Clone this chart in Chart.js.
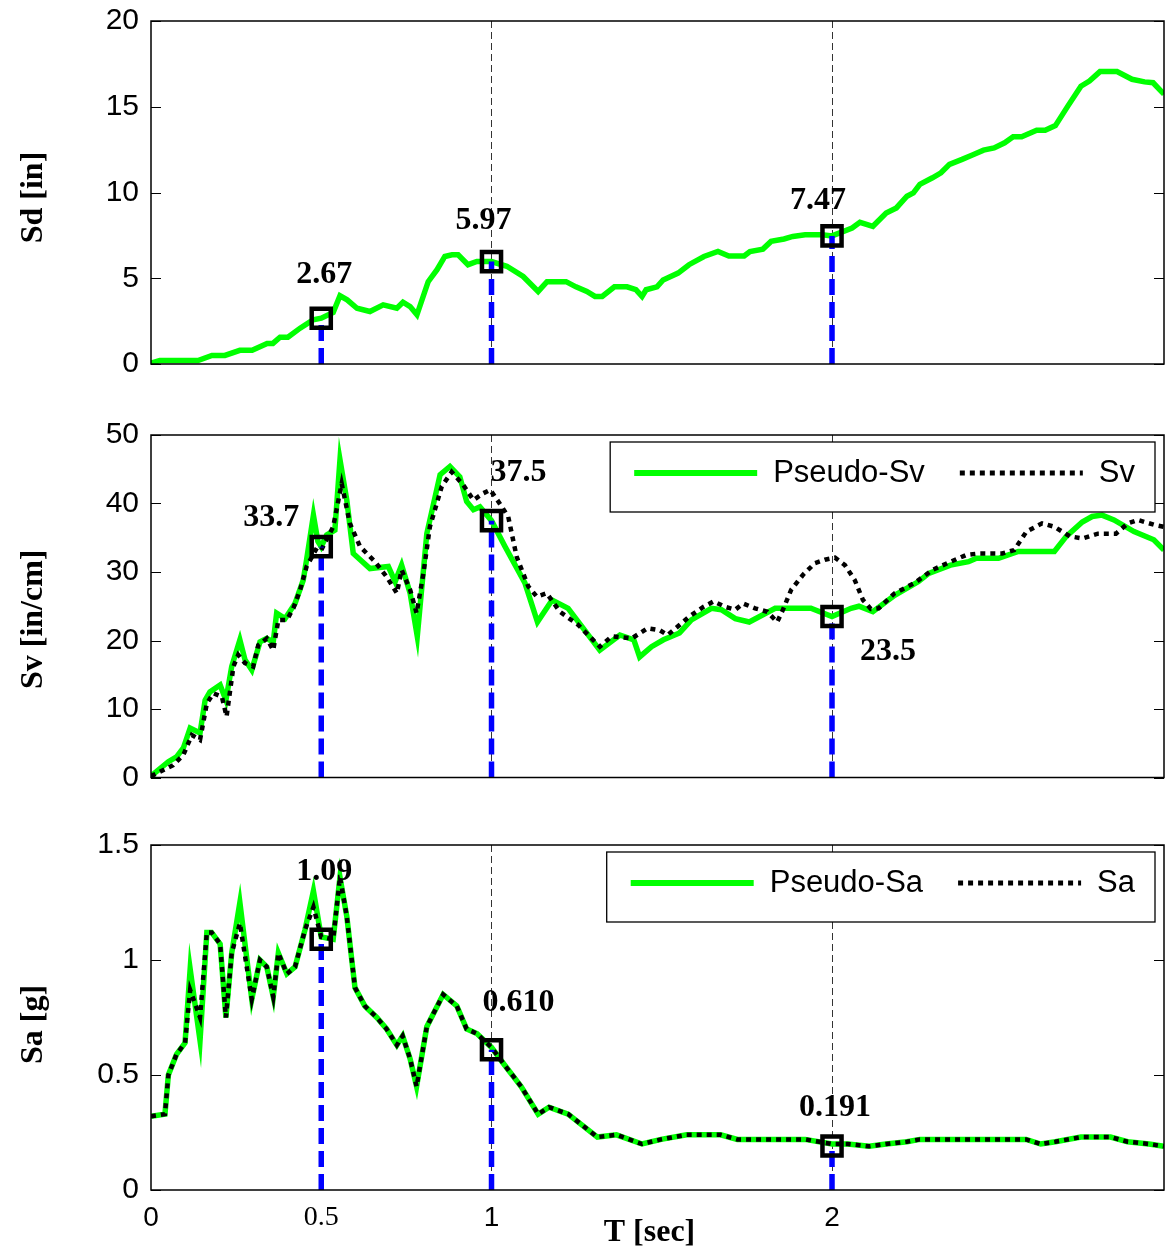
<!DOCTYPE html>
<html>
<head>
<meta charset="utf-8">
<title>Response spectra</title>
<script src="https://cdn.jsdelivr.net/npm/chart.js@4.4.1/dist/chart.umd.min.js"></script>
<style>
  html, body { margin: 0; padding: 0; background: #fff; }
  #wrap { position: relative; width: 1165px; height: 1252px; overflow: hidden; }
  #wrap canvas { position: absolute; left: 0; }
</style>
</head>
<body>
<div id="wrap">
  <canvas id="sdChart" width="1165" height="400" style="top:0px"></canvas>
  <canvas id="svChart" width="1165" height="400" style="top:400px"></canvas>
  <canvas id="saChart" width="1165" height="442" style="top:810px"></canvas>
</div>
<script>
// ---------- data ----------
// periods that are marked on every spectrum
const markPeriods = [0.5, 1, 2];
const sdMarks = [2.67, 5.97, 7.47];
const svMarks = [33.7, 37.5, 23.5];
const saMarks = [1.09, 0.610, 0.191];

// axis ticks
const periodTicks = [0, 0.5, 1, 2];
const periodGrid = [1, 2];
const sdTicks = [0, 5, 10, 15, 20];
const svTicks = [0, 10, 20, 30, 40, 50];
const saTicks = [0, 0.5, 1, 1.5];

// spectral displacement
const sdT = [0, 0.026, 0.138, 0.179, 0.217, 0.261, 0.297, 0.341, 0.358, 0.379, 0.402, 0.438, 0.476, 0.5, 0.535,
  0.555, 0.576, 0.605, 0.643, 0.682, 0.722, 0.74, 0.761, 0.781, 0.814, 0.84, 0.863, 0.884, 0.902, 0.931,
  0.957, 1.0, 1.045, 1.093, 1.137, 1.163, 1.219, 1.248, 1.28, 1.304, 1.325, 1.361, 1.398, 1.424, 1.442,
  1.454, 1.486, 1.504, 1.548, 1.58, 1.624, 1.665, 1.697, 1.742, 1.759, 1.797, 1.821, 1.859, 1.885, 1.921,
  1.971, 2.0, 2.059, 2.082, 2.12, 2.159, 2.189, 2.22, 2.239, 2.258, 2.295, 2.32, 2.345, 2.382, 2.414,
  2.445, 2.476, 2.507, 2.532, 2.557, 2.601, 2.626, 2.656, 2.693, 2.731, 2.756, 2.787, 2.837, 2.881, 2.918,
  2.943, 2.975];
const sdValues = [0.05, 0.2, 0.2, 0.5, 0.5, 0.8, 0.8, 1.2, 1.2, 1.56, 1.56, 2.09, 2.57, 2.67, 3.0,
  3.98, 3.74, 3.25, 3.06, 3.45, 3.25, 3.6, 3.35, 2.87, 4.8, 5.5, 6.27, 6.37, 6.37, 5.79,
  5.98, 5.97, 5.7, 5.1, 4.23, 4.8, 4.8, 4.5, 4.23, 3.94, 3.94, 4.5, 4.5, 4.33, 3.94,
  4.33, 4.5, 4.9, 5.3, 5.79, 6.27, 6.56, 6.3, 6.3, 6.56, 6.7, 7.15, 7.29, 7.44, 7.54,
  7.54, 7.47, 7.93, 8.26, 8.03, 8.8, 9.1, 9.78, 9.98, 10.47, 10.86, 11.15, 11.64, 11.93, 12.2,
  12.47, 12.6, 12.9, 13.25, 13.25, 13.63, 13.63, 13.9, 15.05, 16.2, 16.5, 17.05, 17.05, 16.6, 16.45,
  16.4, 15.73];

// pseudo spectral velocity
const psvT = [0, 0.051, 0.075, 0.095, 0.115, 0.144, 0.159, 0.173, 0.203, 0.22, 0.237, 0.261, 0.276, 0.296, 0.32,
  0.34, 0.359, 0.369, 0.394, 0.423, 0.447, 0.457, 0.477, 0.49, 0.5, 0.516, 0.54, 0.555, 0.575, 0.594,
  0.643, 0.697, 0.717, 0.736, 0.761, 0.782, 0.81, 0.849, 0.878, 0.907, 0.927, 0.947, 0.966, 1.0, 1.04,
  1.098, 1.135, 1.178, 1.225, 1.318, 1.377, 1.418, 1.435, 1.47, 1.505, 1.552, 1.587, 1.646, 1.675, 1.716,
  1.757, 1.833, 1.938, 2.0, 2.056, 2.079, 2.12, 2.184, 2.254, 2.284, 2.348, 2.401, 2.424, 2.489, 2.547,
  2.653, 2.688, 2.735, 2.764, 2.793, 2.828, 2.887, 2.945, 2.975];
const psvValues = [0.2, 2.3, 3.0, 4.3, 7.2, 6.5, 11.3, 12.5, 13.5, 11.3, 16.2, 20.1, 17.2, 15.7, 19.8,
  20.3, 19.8, 24.0, 23.2, 25.4, 28.8, 31.8, 38.3, 34.5, 33.7, 35.4, 36.1, 46.4, 40.5, 32.7,
  30.5, 30.8, 28.6, 31.0, 26.9, 20.6, 35.6, 44.2, 45.4, 43.9, 40.3, 39.1, 39.5, 37.5, 33.7,
  28.4, 22.7, 25.9, 24.7, 18.6, 20.8, 20.1, 17.6, 19.1, 20.1, 21.1, 23.0, 24.7, 24.5, 23.2,
  22.7, 24.7, 24.7, 23.5, 24.7, 25.0, 24.2, 26.6, 28.6, 29.8, 31.0, 31.5, 32.0, 32.0, 33.0,
  33.0, 35.2, 37.3, 38.1, 38.3, 37.6, 35.9, 34.7, 33.2];

// spectral velocity
const svT = [0, 0.065, 0.095, 0.12, 0.144, 0.164, 0.183, 0.208, 0.222, 0.242, 0.256, 0.276, 0.3, 0.315, 0.34,
  0.359, 0.374, 0.399, 0.418, 0.438, 0.457, 0.487, 0.5, 0.535, 0.56, 0.584, 0.614, 0.658, 0.692, 0.722,
  0.736, 0.761, 0.78, 0.8, 0.819, 0.854, 0.883, 0.917, 0.947, 0.976, 0.996, 1.02, 1.049, 1.074, 1.108,
  1.133, 1.162, 1.201, 1.254, 1.318, 1.353, 1.412, 1.458, 1.494, 1.517, 1.546, 1.581, 1.622, 1.652, 1.687,
  1.716, 1.739, 1.774, 1.81, 1.839, 1.856, 1.88, 1.915, 1.95, 1.979, 2.009, 2.038, 2.067, 2.091, 2.114,
  2.137, 2.184, 2.243, 2.295, 2.348, 2.395, 2.43, 2.5, 2.535, 2.571, 2.617, 2.653, 2.699, 2.735, 2.781,
  2.834, 2.869, 2.898, 2.945, 2.975];
const svValues = [0.2, 1.8, 3.3, 6.2, 5.5, 10.8, 12.3, 11.8, 8.9, 16.2, 17.9, 16.7, 16.2, 19.3, 20.3,
  18.6, 23.0, 23.0, 24.7, 27.4, 30.8, 33.5, 33.2, 36.6, 42.9, 37.1, 33.7, 31.5, 29.3, 26.9,
  30.3, 27.4, 24.0, 29.8, 36.6, 42.5, 44.6, 42.7, 40.5, 41.5, 42.0, 40.3, 38.1, 32.2, 27.9,
  26.4, 26.9, 24.2, 22.3, 19.1, 20.6, 20.3, 21.8, 21.5, 20.8, 22.0, 23.5, 24.9, 25.7, 24.9,
  24.5, 25.4, 24.7, 24.2, 22.7, 24.5, 27.4, 29.6, 31.3, 31.8, 32.1, 31.0, 28.8, 25.9, 24.6,
  24.7, 26.9, 28.4, 30.3, 31.5, 32.5, 32.7, 32.7, 33.2, 35.9, 37.1, 36.6, 35.2, 34.9, 35.6,
  35.6, 37.1, 37.6, 36.9, 36.6];

// spectral acceleration (pseudo and exact share the same periods)
const saT = [0, 0.041, 0.051, 0.075, 0.1, 0.115, 0.144, 0.164, 0.178, 0.203, 0.22, 0.237, 0.261, 0.296, 0.32,
  0.34, 0.359, 0.374, 0.399, 0.423, 0.452, 0.477, 0.5, 0.535, 0.555, 0.575, 0.599, 0.628, 0.663, 0.692,
  0.722, 0.739, 0.761, 0.78, 0.81, 0.858, 0.898, 0.927, 0.957, 1.0, 1.035, 1.087, 1.137, 1.169, 1.225,
  1.311, 1.367, 1.442, 1.498, 1.573, 1.673, 1.722, 1.921, 2.0, 2.046, 2.109, 2.159, 2.22, 2.258, 2.57,
  2.613, 2.656, 2.731, 2.818, 2.868, 2.931, 2.975];
const psaValues = [0.32, 0.33, 0.50, 0.59, 0.64, 0.96, 0.65, 1.12, 1.12, 1.07, 0.75, 1.03, 1.25, 0.83, 1.0,
  0.97, 0.84, 1.03, 0.94, 0.97, 1.13, 1.30, 1.1, 1.09, 1.36, 1.19, 0.88, 0.80, 0.75, 0.70,
  0.63, 0.67, 0.57, 0.45, 0.71, 0.85, 0.80, 0.70, 0.68, 0.62, 0.55, 0.45, 0.33, 0.36, 0.33,
  0.23, 0.24, 0.20, 0.22, 0.24, 0.24, 0.22, 0.22, 0.2, 0.2, 0.19, 0.2, 0.21, 0.22, 0.22,
  0.2, 0.21, 0.23, 0.23, 0.21, 0.2, 0.19];
const saValues = [0.32, 0.33, 0.50, 0.59, 0.64, 0.87, 0.75, 1.12, 1.12, 1.07, 0.75, 1.03, 1.16, 0.83, 1.0,
  0.97, 0.84, 1.03, 0.94, 0.97, 1.13, 1.23, 1.1, 1.09, 1.36, 1.19, 0.88, 0.80, 0.75, 0.70,
  0.63, 0.67, 0.57, 0.45, 0.71, 0.85, 0.80, 0.70, 0.68, 0.62, 0.55, 0.45, 0.33, 0.36, 0.33,
  0.23, 0.24, 0.20, 0.22, 0.24, 0.24, 0.22, 0.22, 0.2, 0.2, 0.19, 0.2, 0.21, 0.22, 0.22,
  0.2, 0.21, 0.23, 0.23, 0.21, 0.2, 0.19];

// ---------- drawing ----------
const SANS = '"Liberation Sans", Arial, sans-serif';
const SERIF = '"Liberation Serif", "Times New Roman", serif';
const T_MAX = 2.975;

const pairs = (xs, ys) => xs.map((x, i) => ({ x: x, y: ys[i] }));

const pseudoStyle = { borderColor: '#00ff00', borderWidth: 5.5, pointRadius: 0, tension: 0, order: 3 };
const exactStyle = { borderColor: '#000000', borderWidth: 4.5, borderDash: [5, 5], pointRadius: 0, tension: 0, order: 2 };

// plot frame with inward ticks on both vertical sides
const axesBox = {
  id: 'axesBox',
  afterDatasetsDraw(chart) {
    const { ctx, chartArea: a } = chart;
    const y = chart.scales.y;
    ctx.save();
    ctx.strokeStyle = '#000';
    ctx.lineWidth = 1;
    y.ticks.forEach(t => {
      const py = Math.round(y.getPixelForValue(t.value)) + 0.5;
      ctx.beginPath();
      ctx.moveTo(a.left, py); ctx.lineTo(a.left + 10, py);
      ctx.moveTo(a.right, py); ctx.lineTo(a.right - 10, py);
      ctx.stroke();
    });
    ctx.lineWidth = 1.5;
    ctx.strokeRect(a.left, a.top, a.right - a.left, a.bottom - a.top);
    ctx.restore();
  }
};

// axis titles: rotated quantity name on the left, period name under the bottom axis
const axisTitles = {
  id: 'axisTitles',
  afterDraw(chart, args, opts) {
    const { ctx, chartArea: a } = chart;
    ctx.save();
    ctx.font = 'bold 32px ' + SERIF;
    ctx.fillStyle = '#000';
    ctx.textAlign = 'center';
    ctx.textBaseline = 'middle';
    ctx.translate(34, (a.top + a.bottom) / 2 + opts.yShift);
    ctx.rotate(-Math.PI / 2);
    ctx.fillText(opts.yText, 0, 0);
    ctx.restore();
    if (opts.xText) {
      ctx.save();
      ctx.font = 'bold 32px ' + SERIF;
      ctx.fillStyle = '#000';
      ctx.textAlign = 'center';
      ctx.textBaseline = 'middle';
      ctx.fillText(opts.xText, (a.left + a.right) / 2 - 8, a.bottom + 43);
      ctx.restore();
    }
  }
};

// value labels next to the square markers
const markLabels = {
  id: 'markLabels',
  afterDatasetsDraw(chart, args, opts) {
    const idx = chart.data.datasets.findIndex(d => d.isMarks);
    if (idx < 0) return;
    const meta = chart.getDatasetMeta(idx);
    const ds = chart.data.datasets[idx];
    const ctx = chart.ctx;
    ctx.save();
    ctx.font = 'bold 32px ' + SERIF;
    ctx.fillStyle = '#000';
    ctx.textAlign = 'center';
    ctx.textBaseline = 'middle';
    meta.data.forEach((pt, i) => {
      const off = opts.offsets[i];
      ctx.fillText(ds.data[i].y.toPrecision(3), pt.x + off[0], pt.y + off[1]);
    });
    ctx.restore();
  }
};

// boxed one-row legend in the upper right corner of the plot
const boxLegend = {
  id: 'boxLegend',
  afterDraw(chart, args, opts) {
    if (!opts.show) return;
    const { ctx, chartArea: a } = chart;
    const items = chart.data.datasets.filter(d => d.inLegend);
    ctx.save();
    ctx.font = '31px ' + SANS;
    const padL = 24, sample = 123, gap = 16, between = 35, padR = 20, h = 70;
    let w = padL + padR;
    items.forEach((d, i) => { w += sample + gap + ctx.measureText(d.label).width + (i ? between : 0); });
    const x0 = a.right - 9 - w, y0 = a.top + 7;
    ctx.fillStyle = '#fff';
    ctx.fillRect(x0, y0, w, h);
    ctx.strokeStyle = '#000';
    ctx.lineWidth = 1.3;
    ctx.strokeRect(x0, y0, w, h);
    const cy = y0 + 31;
    let x = x0 + padL;
    items.forEach((d, i) => {
      if (i) x += between;
      ctx.beginPath();
      ctx.setLineDash(d.borderDash || []);
      ctx.lineWidth = d.borderWidth + 0.5;
      ctx.strokeStyle = d.borderColor;
      ctx.moveTo(x, cy); ctx.lineTo(x + sample, cy);
      ctx.stroke();
      ctx.setLineDash([]);
      x += sample + gap;
      ctx.fillStyle = '#000';
      ctx.textAlign = 'left';
      ctx.textBaseline = 'middle';
      ctx.fillText(d.label, x, cy);
      x += ctx.measureText(d.label).width;
    });
    ctx.restore();
  }
};

function makePanel(id, p) {
  const datasets = p.series.slice();
  markPeriods.forEach((t, i) => {
    datasets.push({
      data: [{ x: t, y: 0 }, { x: t, y: p.marks[i] }],
      borderColor: '#0000ff', borderWidth: 5.5, borderDash: [16, 7],
      pointRadius: 0, order: 1
    });
  });
  datasets.push({
    isMarks: true,
    data: pairs(markPeriods, p.marks),
    showLine: false,
    pointStyle: 'rect', pointRadius: 13.5,
    pointBorderColor: '#000', pointBorderWidth: 4.5,
    pointBackgroundColor: 'rgba(0,0,0,0)',
    order: 0
  });

  return new Chart(document.getElementById(id), {
    type: 'line',
    data: { datasets: datasets },
    plugins: [axesBox, markLabels, boxLegend, axisTitles],
    options: {
      responsive: false,
      animation: false,
      devicePixelRatio: 1,
      events: [],
      layout: { autoPadding: false, padding: { top: p.top, bottom: p.bottom, left: 0, right: 1 } },
      plugins: {
        legend: { display: false },
        tooltip: { enabled: false },
        markLabels: { offsets: p.labelOffsets },
        boxLegend: { show: p.legend },
        axisTitles: { yText: p.yTitle, yShift: p.yTitleShift, xText: p.showX ? 'T [sec]' : '' }
      },
      scales: {
        x: {
          type: 'linear', min: 0, max: T_MAX,
          afterFit: s => { s.height = p.xHeight; s.paddingLeft = 0; s.paddingRight = 0; },
          afterBuildTicks: s => { s.ticks = periodTicks.map(v => ({ value: v })); },
          grid: {
            drawTicks: false, lineWidth: 1,
            color: c => (c.tick && periodGrid.includes(c.tick.value)) ? '#333' : 'rgba(0,0,0,0)'
          },
          border: { display: false, dash: [7, 4] },
          ticks: {
            display: p.showX, padding: 11, autoSkip: false, maxRotation: 0, color: '#000',
            font: c => ({ family: (c.tick && c.tick.value === 0.5) ? SERIF : SANS, size: 28 }),
            callback: v => String(v)
          }
        },
        y: {
          type: 'linear', min: 0, max: p.yMax,
          afterFit: s => { s.width = 151; s.paddingTop = 0; s.paddingBottom = 0; },
          afterBuildTicks: s => { s.ticks = p.ticks.map(v => ({ value: v })); },
          grid: { display: false, drawTicks: false },
          border: { display: false },
          ticks: {
            padding: 12, color: '#000',
            font: { family: SANS, size: 30 },
            callback: v => String(v)
          }
        }
      }
    }
  });
}

makePanel('sdChart', {
  series: [Object.assign({ label: 'Sd', data: pairs(sdT, sdValues) }, pseudoStyle)],
  marks: sdMarks, yMax: 20, ticks: sdTicks, yTitle: 'Sd [in]', yTitleShift: 5,
  top: 21, bottom: 36, xHeight: 0, showX: false, legend: false,
  labelOffsets: [[3, -43], [-8, -41], [-14, -35]]
});

makePanel('svChart', {
  series: [
    Object.assign({ label: 'Pseudo-Sv', inLegend: true, data: pairs(psvT, psvValues) }, pseudoStyle),
    Object.assign({ label: 'Sv', inLegend: true, data: pairs(svT, svValues) }, exactStyle)
  ],
  marks: svMarks, yMax: 50, ticks: svTicks, yTitle: 'Sv [in/cm]', yTitleShift: 13,
  top: 35, bottom: 22.5, xHeight: 0, showX: false, legend: true,
  labelOffsets: [[-50, -29], [27, -48], [56, 35]]
});

makePanel('saChart', {
  series: [
    Object.assign({ label: 'Pseudo-Sa', inLegend: true, data: pairs(saT, psaValues) }, pseudoStyle),
    Object.assign({ label: 'Sa', inLegend: true, data: pairs(saT, saValues) }, exactStyle)
  ],
  marks: saMarks, yMax: 1.5, ticks: saTicks, yTitle: 'Sa [g]', yTitleShift: 7,
  top: 35, bottom: 0, xHeight: 62, showX: true, legend: true,
  labelOffsets: [[3, -68], [27, -47], [3, -38]]
});
</script>
</body>
</html>
